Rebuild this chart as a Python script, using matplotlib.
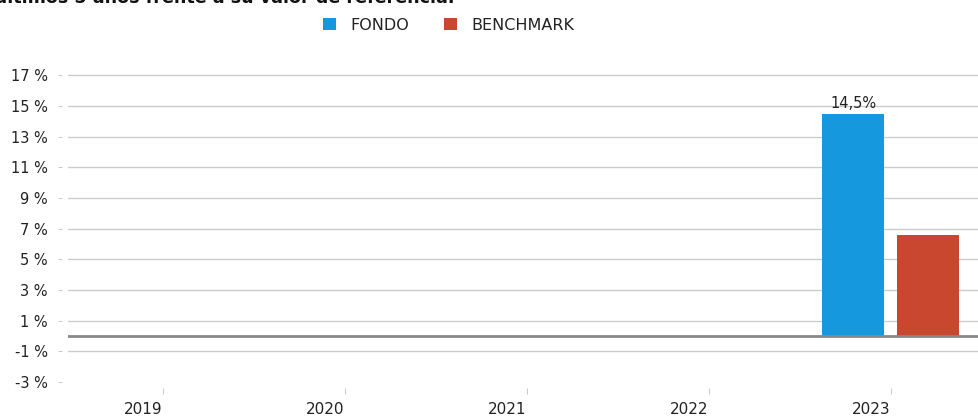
import matplotlib.pyplot as plt
import numpy as np

# === DATA ===
years = ["2019", "2020", "2021", "2022", "2023"]
fondo = [0, 0, 0, 0, 14.5]
benchmark = [0, 0, 0, 0, 6.55]
yticks = [-3, -1, 1, 3, 5, 7, 9, 11, 13, 15, 17]

BLUE = "#1598de"
RED = "#c9462f"
TXT = "#222222"

plt.rcParams['font.family'] = ['DejaVu Sans']

fig = plt.figure(figsize=(9.79, 4.18), dpi=100)
ax = fig.add_axes([68 / 979, 30 / 418, 914 / 979, 328 / 418])

x = np.arange(len(years))
w = 0.34
b1 = ax.bar(x - 0.206, fondo, w, color=BLUE, label="FONDO", zorder=3)
b2 = ax.bar(x + 0.206, benchmark, w, color=RED, label="BENCHMARK", zorder=3)

# value label only on the non-zero fondo bar
for rect, v in zip(b1, fondo):
    if v != 0:
        ax.text(rect.get_x() + rect.get_width() / 2, v + 0.15,
                f"{v:.1f}%".replace(".", ","), ha="center", va="bottom",
                fontsize=10.5, color=TXT)

ax.set_xlim(-0.522, 4.503)
ax.set_ylim(-3.4, 18)
ax.set_yticks(yticks)
ax.set_yticklabels([f"{t} %" for t in yticks])
ax.set_xticks(x)
ax.set_xticklabels(years, ha="right")

# grid lines at odd values except the bottom one
for t in yticks[1:]:
    ax.axhline(t, color="#cccccc", lw=1, zorder=1)
ax.axhline(0, color="#888888", lw=2, zorder=4)

for s in ax.spines.values():
    s.set_visible(False)
ax.spines['left'].set_position(('outward', 4.5))
ax.tick_params(axis='y', length=3, color="#cccccc", pad=7, labelsize=10.5, labelcolor=TXT)
ax.tick_params(axis='x', length=4, color="#cccccc", pad=6, labelsize=11, labelcolor=TXT)

leg = fig.legend(loc="center", bbox_to_anchor=(449 / 979, 1 - 25 / 418), ncol=2,
                 frameon=False, fontsize=11.5, handlelength=0.8, handleheight=0.8,
                 columnspacing=2.2, handletextpad=0.9)
for t in leg.get_texts():
    t.set_color(TXT)

fig.text(455 / 979, 1 - 3 / 418, "Rentabilidad de los últimos 5 años frente a su valor de referencia.",
         fontsize=12.6, fontweight="bold", va="baseline", ha="right", color="#111111")

fig.savefig("out.png", dpi=100)
